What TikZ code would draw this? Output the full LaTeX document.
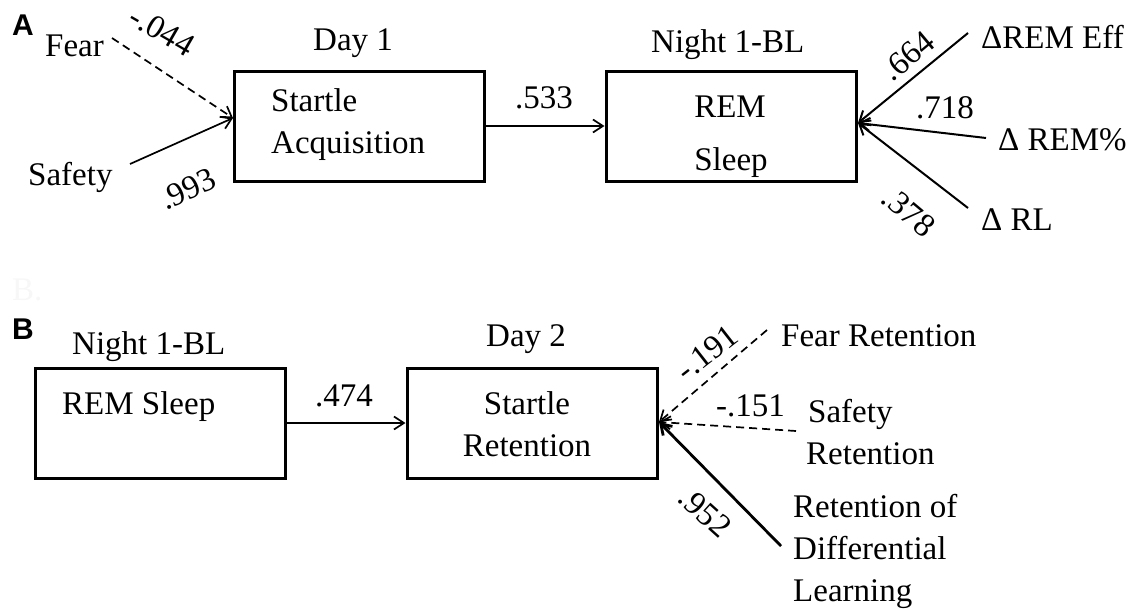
\documentclass[tikz,border=0pt]{standalone}
\usepackage{fontspec}
\setmainfont{Liberation Serif}
\newfontfamily\panelfont{Liberation Sans}
\usetikzlibrary{arrows.meta}
\begin{document}
\begin{tikzpicture}[x=1pt,y=-1pt,
  lbl/.style={inner sep=0pt, font=\fontsize{33}{42}\selectfont},
  tl/.style={lbl, anchor=base west},
  tc/.style={lbl, anchor=base},
  panel/.style={inner sep=0pt, anchor=base west, font=\panelfont\bfseries\fontsize{30}{36}\selectfont},
  box/.style={draw, line width=3pt, minimum width=250pt, minimum height=110pt, inner sep=0pt},
  arr/.style={-{Straight Barb[length=10pt,width=13pt]}, line width=1.7pt},
  arrm/.style={arr, line width=2pt},
  arrb/.style={arr, line width=2.8pt},
  dsh/.style={dash pattern=on 8pt off 5pt}]
\path[use as bounding box] (0,0) rectangle (1134,608);

% ---------- panel A ----------
\node[panel] (pA) at (12,35) {A};
\node[box] (acq) at (359,126) {};
\node[box] (remA) at (731,126) {};
\node[tl] (day1) at (313,50) {Day 1};
\node[tl] (acq1) at (271,111) {Startle};
\node[tl] (acq2) at (271,153) {Acquisition};
\node[tl] (nightA) at (651,52) {Night 1-BL};
\node[tc] (remA1) at (730,117) {REM};
\node[tc] (remA2) at (731,170) {Sleep};

\node[tl] (fear) at (45,56) {Fear};
\node[tl] (safety) at (28,185) {Safety};
\node[tl] (dEff) at (981,48) {ΔREM Eff};
\node[tl] (dPct) at (998,150) {Δ REM\%};
\node[tl] (dRL) at (981,230) {Δ RL};

\coordinate (fearEnd) at (112,38);
\coordinate (safetyEnd) at (130,164);
\coordinate (acqIn) at (233,118);
\coordinate (effEnd) at (968,33);
\coordinate (pctEnd) at (986,138);
\coordinate (rlEnd) at (968,208);
\coordinate (remIn) at (858,123);

\draw[arr, dsh] (fearEnd) -- (acqIn);
\draw[arr] (safetyEnd) -- (acqIn);
\draw[arr] (acq.east) -- (remA.west);
\draw[arrm] (effEnd) -- (remIn);
\draw[arrm] (pctEnd) -- (remIn);
\draw[arrm] (rlEnd) -- (remIn);

\node[lbl, rotate=-30] (wFear) at (162,31) {-.044};
\node[lbl, rotate=25] (wSafety) at (188,189) {.993};
\node[tl] (wAcq) at (515,108) {.533};
\node[lbl, rotate=40] (wEff) at (908,56) {.664};
\node[tl] (wPct) at (916,118) {.718};
\node[lbl, rotate=-40] (wRL) at (909,212) {.378};

% faint leftover label
\node[tl, text=black!3] (faintB) at (12,300) {B.};

% ---------- panel B ----------
\node[panel] (pB) at (12,339) {B};
\node[box] (remB) at (160,423) {};
\node[box] (ret) at (532,423) {};
\node[tl] (nightB) at (72,354) {Night 1-BL};
\node[tl] (remB1) at (62,414) {REM Sleep};
\node[tl] (day2) at (486,346) {Day 2};
\node[tc] (ret1) at (527,414) {Startle};
\node[tc] (ret2) at (527,456) {Retention};

\node[tl] (fearR) at (781,346) {Fear Retention};
\node[tl] (safR1) at (808,422) {Safety};
\node[tl] (safR2) at (806,464) {Retention};
\node[tl] (diff1) at (793,517) {Retention of};
\node[tl] (diff2) at (793,559) {Differential};
\node[tl] (diff3) at (793,601) {Learning};

\coordinate (fearREnd) at (767,330);
\coordinate (safREnd) at (796,431);
\coordinate (diffEnd) at (781,546);
\coordinate (retIn) at (659,422);

\draw[arr] (remB.east) -- (ret.west);
\draw[arr, dsh] (fearREnd) -- (retIn);
\draw[arr, dsh] (safREnd) -- (retIn);
\draw[arrb] (diffEnd) -- (retIn);

\node[tl] (wRet) at (315,406) {.474};
\node[lbl, rotate=38] (wFearR) at (707,353) {-.191};
\node[tl] (wSafR) at (716,416) {-.151};
\node[lbl, rotate=-42] (wDiff) at (705,512) {.952};
\end{tikzpicture}
\end{document}
